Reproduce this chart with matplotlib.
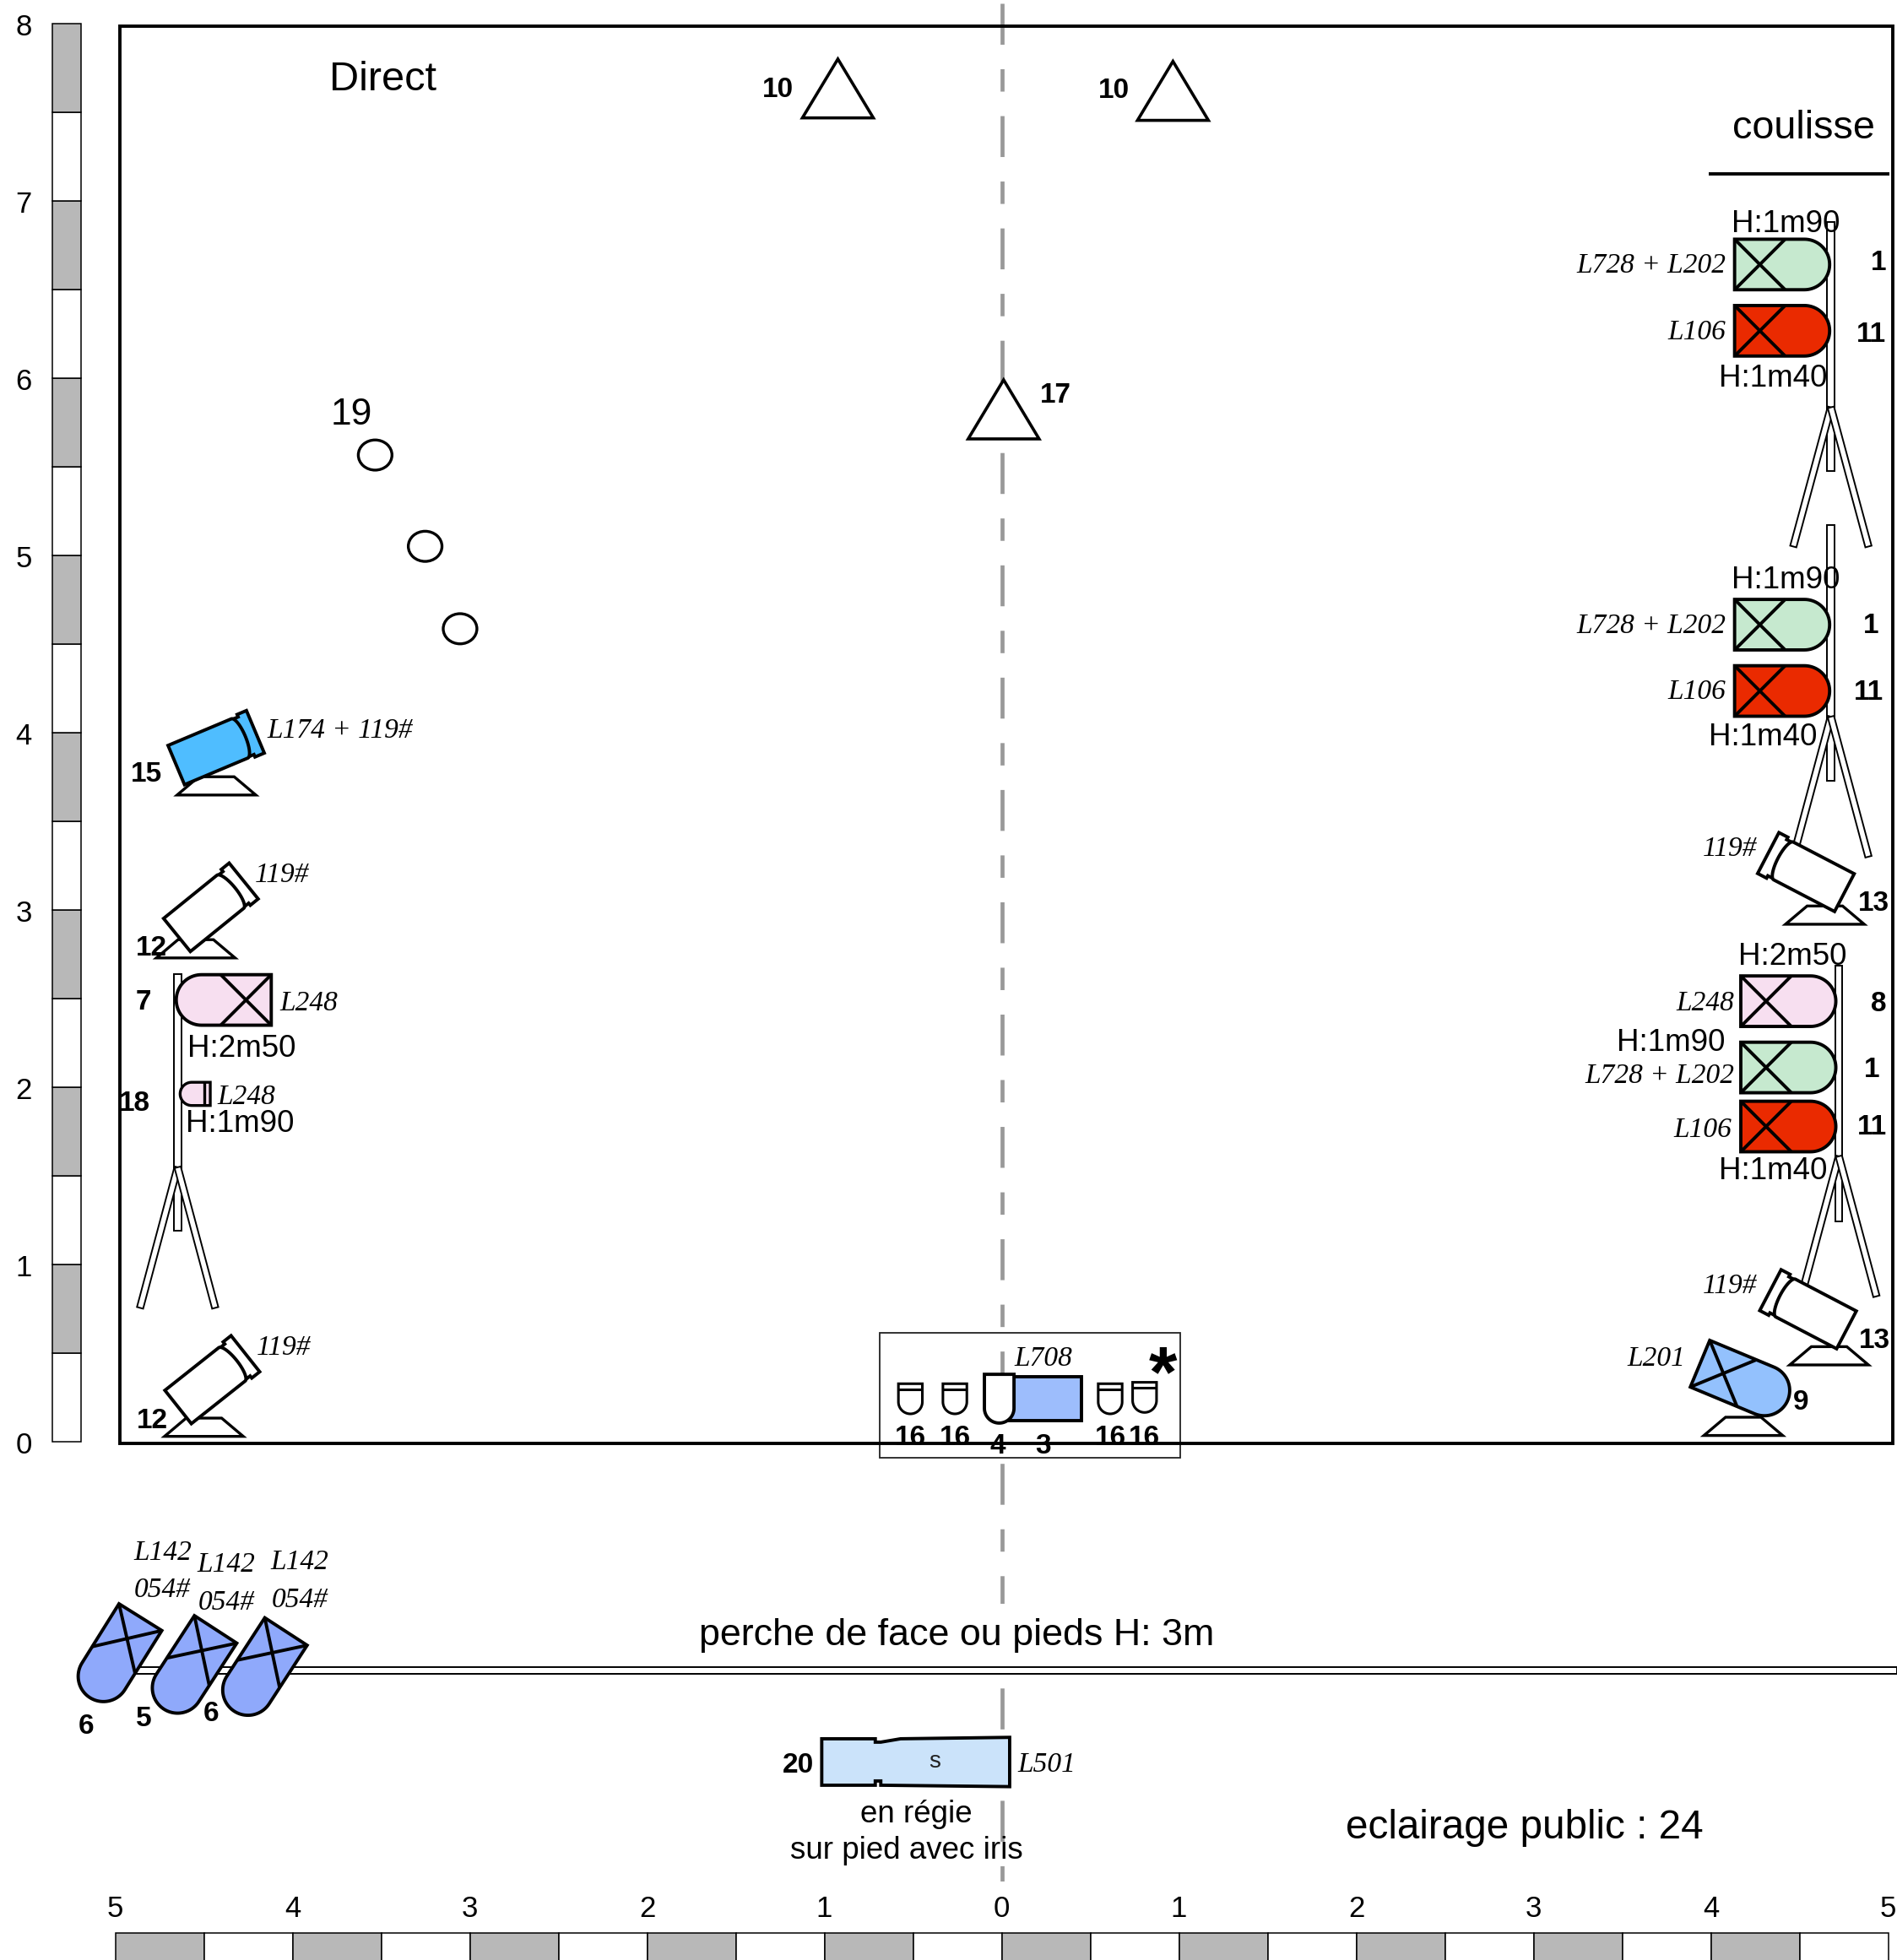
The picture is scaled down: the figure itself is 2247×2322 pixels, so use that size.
import matplotlib
matplotlib.use('Agg')
import matplotlib.pyplot as plt
import numpy as np
from matplotlib.patches import Polygon, Rectangle, Ellipse

plt.rcParams['font.family'] = ['Liberation Sans', 'DejaVu Sans']
plt.rcParams['lines.scale_dashes'] = False

# everything is in metres on the stage, x=0 is the centre line, y=0 the front edge
GREEN = '#c6e9cf'
RED = '#ea2a00'
PINK = '#f7dff0'
SKY = '#93c1fd'
FACE = '#8fa9fb'
CYAN = '#4fbdff'

# rulers
side_marks = [0, 1, 2, 3, 4, 5, 6, 7, 8]
bottom_marks = [-5, -4, -3, -2, -1, 0, 1, 2, 3, 4, 5]

# pars on stands + face pars: x, y of the back edge, direction in degrees
pc_x = [4.134, 4.134, 4.134, 4.134, 4.169, 4.169, 4.169, -4.12, 3.939, -4.858, -4.434, -4.037]
pc_y = [6.641, 6.267, 4.609, 4.235, 2.485, 2.111, 1.778, 2.492, 0.44, -0.99, -1.059, -1.071]
pc_dir = [0, 0, 0, 0, 0, 0, 0, 180, -22.6, 238, 237, 237]
pc_col = [GREEN, RED, GREEN, RED, PINK, GREEN, RED, PINK, SKY, FACE, FACE, FACE]

# profile spots
spot_x = [4.41, 4.422, -4.351, -4.342, -4.299]
spot_y = [3.276, 0.81, 3.102, 0.436, 3.967]
spot_dir = [-27.5, -27.6, 219, 218.4, 202.8]
spot_col = ['white', 'white', 'white', 'white', CYAN]

# feet under the spots
foot_x = [4.643, 4.667, -4.546, -4.5, -4.429, 4.183]
foot_y = [2.919, 0.433, 2.729, 0.03, 3.648, 0.035]

# stands: pole x, top, bottom, leg apex y, foot y, foot half spread
stand_x = [4.677, 4.677, 4.722, -4.648]
stand_top = [6.88, 5.172, 2.686, 2.64]
stand_bot = [5.476, 3.73, 1.243, 1.19]
stand_apex = [5.835, 4.09, 1.61, 1.548]
stand_foot = [5.05, 3.30, 0.82, 0.755]

# triangles (apex x, apex y, base y) and follow spots positions
tri_x = [-0.924, 0.966, 0.011]
tri_top = [7.80, 7.787, 5.99]
tri_base = [7.468, 7.454, 5.657]
oval_x = [-3.534, -3.252, -3.055]
oval_y = [5.566, 5.051, 4.586]

# small lamps in the centre box
small_x = [-0.515, -0.264, 0.612, 0.806]
small_top = [0.327, 0.327, 0.327, 0.335]

# lantern 20 outline
lantern_x = [-1.015, -0.713, -0.713, -0.682, -0.57, 0.045, 0.045, -0.682, -0.682, -0.713, -0.713, -1.015]
lantern_y = [-1.676, -1.676, -1.695, -1.695, -1.676, -1.668, -1.946, -1.938, -1.914, -1.914, -1.938, -1.938]

# labels
num_txt = ['10', '10', '17', '1', '11', '1', '11', '13', '8', '1', '11', '13', '9',
           '15', '12', '7', '18', '12', '16', '16', '16', '16', '4', '3', '6', '5', '6', '20']
num_x = [-1.263, 0.635, 0.303, 4.945, 4.903, 4.903, 4.889, 4.917, 4.945, 4.91, 4.91, 4.924, 4.508,
         -4.825, -4.797, -4.84, -4.889, -4.79, -0.515, -0.261, 0.614, 0.804, -0.021, 0.233,
         -5.164, -4.84, -4.459, -1.15]
num_y = [7.647, 7.64, 5.919, 6.667, 6.265, 4.621, 4.247, 3.055, 2.49, 2.116, 1.792, 0.586, 0.24,
         3.781, 2.801, 2.497, 1.926, 0.134, 0.042, 0.042, 0.042, 0.042, -0.007, -0.007,
         -1.587, -1.545, -1.517, -1.806]

gel_right = ['L728 + L202', 'L106', 'L728 + L202', 'L106', 'L248', 'L728 + L202', 'L106']
gel_right_x = [4.085, 4.085, 4.085, 4.085, 4.134, 4.134, 4.12]
gel_right_y = [6.653, 6.279, 4.621, 4.247, 2.49, 2.081, 1.778]

gel_left = ['L174 + 119#', '119#', 'L248', 'L248', '119#', 'L501']
gel_left_x = [-4.141, -4.212, -4.071, -4.423, -4.205, 0.092]
gel_left_y = [4.028, 3.217, 2.49, 1.961, 0.55, -1.806]

gel_mid = ['119#', '119#', 'L201', 'L708', 'L142', '054#', 'L142', '054#', 'L142', '054#']
gel_mid_x = [4.106, 4.106, 3.69, 0.233, -4.734, -4.734, -4.374, -4.374, -3.958, -3.958]
gel_mid_y = [3.365, 0.896, 0.487, 0.487, -0.607, -0.818, -0.677, -0.889, -0.663, -0.875]

height_txt = ['H:1m90', 'H:1m40', 'H:1m90', 'H:1m40', 'H:2m50', 'H:1m90', 'H:1m40', 'H:2m50', 'H:1m90']
height_x = [4.423, 4.353, 4.423, 4.296, 4.459, 3.774, 4.353, -4.289, -4.296]
height_y = [6.892, 6.018, 4.882, 3.993, 2.758, 2.272, 1.545, 2.236, 1.813]

fig = plt.figure(figsize=(22.47, 23.22), dpi=100)
ax = fig.add_axes([0, 0, 1, 1])
ax.set_xlim(-5.65, 5.05)
ax.set_ylim(-2.924, 8.133)
ax.axis('off')


def place(pts, x, y, angle):
    a = np.radians(angle)
    pts = np.asarray(pts, dtype=float)
    c, s = np.cos(a), np.sin(a)
    return np.column_stack([x + c * pts[:, 0] - s * pts[:, 1], y + s * pts[:, 0] + c * pts[:, 1]])


def shape(pts, face='white', lw=2.8, z=3):
    ax.add_patch(Polygon(pts, closed=True, facecolor=face, edgecolor='black', linewidth=lw,
                         joinstyle='miter', zorder=z))


def lamp(x, y, angle, face, L=0.536, h=0.285, cross=0.285, band=0.0, lw=2.8):
    r = h / 2
    t = np.linspace(np.pi / 2, -np.pi / 2, 40)
    nose = np.column_stack([L - r + r * np.cos(t), r * np.sin(t)])
    shape(place(np.vstack([[[0, r]], nose, [[0, -r]]]), x, y, angle), face, lw)
    if cross:
        for a, b in [((0, r), (cross, -r)), ((0, -r), (cross, r))]:
            seg = place([a, b], x, y, angle)
            ax.plot(seg[:, 0], seg[:, 1], color='black', lw=lw, zorder=3, solid_capstyle='butt')
    if band:
        seg = place([(band, r), (band, -r)], x, y, angle)
        ax.plot(seg[:, 0], seg[:, 1], color='black', lw=lw, zorder=3, solid_capstyle='butt')


def spot(x, y, angle, face):
    gate = [(-0.097, 0.13), (-0.04, 0.13), (-0.04, 0.115), (0.005, 0.115),
            (0.005, -0.115), (-0.04, -0.115), (-0.04, -0.13), (-0.097, -0.13)]
    shape(place(gate, x, y, angle), face)
    t = np.linspace(-np.pi / 2, np.pi / 2, 30)
    arc = np.column_stack([-0.035 * np.cos(t), 0.12 * np.sin(t)])
    body = np.vstack([[[0.387, 0.12], [0.387, -0.12]], arc])
    shape(place(body, x, y, angle), face)


def leg(x0, y0, x1, y1, w=0.036):
    d = np.array([x1 - x0, y1 - y0])
    n = np.array([-d[1], d[0]]) / np.hypot(*d) * w / 2
    p0, p1 = np.array([x0, y0]), np.array([x1, y1])
    shape([p0 + n, p1 + n, p1 - n, p0 - n], 'white', lw=1.4)


def label(x, y, s, size, **kw):
    # text sits a little low in the reference
    kw.setdefault('ha', 'center')
    kw.setdefault('zorder', 4)
    return ax.text(x, y - 0.0008 * size, s, fontsize=size, va='center', **kw)


# centre line, drawn first so that the white things sit on it
ax.plot([0, 0], [8.114, -2.924], color='#999999', lw=3.4, zorder=1, dash_capstyle='butt',
        dashes=(34.9, 20.9, 19.1, 20.9))
# the white patch behind the number 4
ax.add_patch(Rectangle((-0.05, -0.09), 0.1, 0.2, facecolor='white', edgecolor='none', zorder=2))

# rulers
for v in side_marks:
    label(-5.517, v, str(v), 25)
for v in bottom_marks:
    label(v, -2.617, str(abs(v)), 25, zorder=2, bbox=dict(facecolor='white', edgecolor='none', pad=12))
for i in range(16):
    ax.bar(-5.275, 0.5, width=0.16, bottom=i * 0.5, color='#b8b8b8' if i % 2 else 'white',
           edgecolor='black', linewidth=1.1, zorder=2)
for i in range(20):
    ax.bar(-5 + i * 0.5 + 0.25, 0.3, width=0.5, bottom=-3.071, color='white' if i % 2 else '#b8b8b8',
           edgecolor='black', linewidth=1.1, zorder=2)

# perche
label(-0.254, -1.065, 'perche de face ou pieds H: 3m', 32.3, zorder=2,
      bbox=dict(facecolor='white', edgecolor='none', pad=12))
ax.add_patch(Rectangle((-4.95, -1.311), 10.0, 0.04, facecolor='white', edgecolor='black', linewidth=1.4, zorder=2))

# stands
for x, top, bot, apex, foot in zip(stand_x, stand_top, stand_bot, stand_apex, stand_foot):
    ax.add_patch(Rectangle((x - 0.02, bot), 0.04, top - bot, facecolor='white', edgecolor='black',
                           linewidth=1.4, zorder=3))
    leg(x, apex, x - 0.212, foot)
    leg(x, apex, x + 0.212, foot)

# triangles and ovals
for x, top, base in zip(tri_x, tri_top, tri_base):
    shape([(x, top), (x - 0.2, base), (x + 0.2, base)], lw=2.6)
for x, y in zip(oval_x, oval_y):
    ax.add_patch(Ellipse((x, y), 0.19, 0.17, facecolor='white', edgecolor='black', linewidth=2.4, zorder=3))

# feet
for x, y in zip(foot_x, foot_y):
    shape([(x - 0.222, y), (x + 0.222, y), (x + 0.1, y + 0.103), (x - 0.1, y + 0.103)], lw=2.4)

for x, y, d, c in zip(pc_x, pc_y, pc_dir, pc_col):
    lamp(x, y, d, c)
for x, y, d, c in zip(spot_x, spot_y, spot_dir, spot_col):
    spot(x, y, d, c)

# lamp 18
lamp(-4.464, 1.962, 180, PINK, L=0.17, h=0.131, cross=0, band=0.035, lw=2.4)

# centre box
ax.add_patch(Rectangle((-0.69, -0.09), 1.697, 0.702, facecolor='none', edgecolor='#222222', linewidth=1.3, zorder=3))
for x, top in zip(small_x, small_top):
    lamp(x, top, -90, 'white', L=0.17, h=0.135, cross=0, band=0.03, lw=2.2)
ax.add_patch(Rectangle((0.03, 0.118), 0.419, 0.249, facecolor='#9dbdfc', edgecolor='black', linewidth=2.8, zorder=3))
lamp(-0.014, 0.38, -90, 'white', L=0.275, h=0.167, cross=0)
label(0.91, 0.41, '*', 62, fontweight='bold')

# lantern
shape(np.column_stack([lantern_x, lantern_y]), '#cbe3fa')
label(-0.38, -1.79, 's', 20, color='#222222')

# frame and coulisse
ax.add_patch(Rectangle((-4.973, -0.008), 9.997, 7.995, facecolor='none', edgecolor='black', linewidth=2.8, zorder=5))
ax.plot([3.986, 5.009], [7.153, 7.153], color='black', lw=2.8, zorder=5, solid_capstyle='butt')

# labels
for s, x, y in zip(num_txt, num_x, num_y):
    label(x, y, s, 24, fontweight='bold')
for s, x, y in zip(gel_right, gel_right_x, gel_right_y):
    label(x, y, s, 24, family='Liberation Serif', style='italic', ha='right')
for s, x, y in zip(gel_left, gel_left_x, gel_left_y):
    label(x, y, s, 24, family='Liberation Serif', style='italic', ha='left')
for s, x, y in zip(gel_mid, gel_mid_x, gel_mid_y):
    label(x, y, s, 24, family='Liberation Serif', style='italic')
for s, x, y in zip(height_txt, height_x, height_y):
    label(x, y, s, 26.5)

label(-3.492, 7.711, 'Direct', 35)
label(4.522, 7.436, 'coulisse', 33.7)
label(-3.668, 5.82, '19', 32)
label(2.949, -2.152, 'eclairage public : 24', 34.3)
label(-0.48, -2.081, 'en régie', 26.5)
label(-0.536, -2.286, 'sur pied avec iris', 26.5)

fig.savefig('out.png', dpi=100)
